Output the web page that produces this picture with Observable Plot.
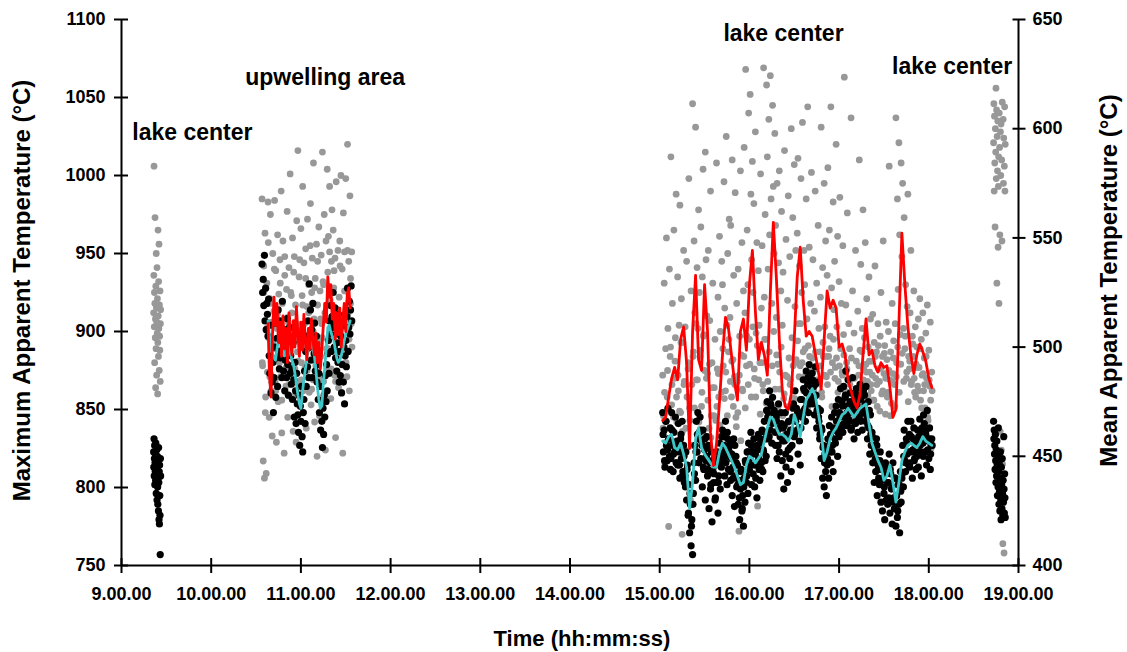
<!DOCTYPE html>
<html><head><meta charset="utf-8">
<script src="https://cdn.jsdelivr.net/npm/d3@7"></script>
<script src="https://cdn.jsdelivr.net/npm/@observablehq/plot@0.6"></script>
<style>body{margin:0;background:#fff;}</style>
</head><body><div id="chart"></div>
<script>
// ---- axes ----
const xDomain = [9, 19];
const leftDomain = [750, 1100];
const rightDomain = [400, 650];
const xTicks = [9, 10, 11, 12, 13, 14, 15, 16, 17, 18, 19];
const leftTicks = [750, 800, 850, 900, 950, 1000, 1050, 1100];
const rightTicks = [400, 450, 500, 550, 600, 650];

// ---- sampling of each measurement run (start time, interval in seconds) ----
const run1Start = "09:21:30", run1Step = 8;
const run2Start = "10:34:00", run2Step = 24;
const run2bStart = "10:34:12", run2bStep = 60;
const run3Start = "15:02:00", run3Step = 30;
const run3bStart = "15:02:15", run3bStep = 60;
const run4Start = "18:43:20", run4Step = 12;
const avg2Start = "10:38:00", avg2Step = 60;
const avg3Start = "15:02:00", avg3Step = 120;

// ---- maximum apparent temperature (left axis, °C) ----
const gray1 = [912,936,1006,903,925,880,918,973,896,908,864,929,889,950,915,872,906,941,899,921,860,893,965,910,884,932,902,956,875,917,897,888,926,868,905,914];
const gray2 = [
985,878,817,942,806,963,858,809,931,874,
983,896,845,921,975,862,906,833,950,889,
913,984,868,939,829,902,962,855,924,880,
946,871,990,835,918,958,882,822,936,897,
865,927,977,845,906,941,872,1001,858,923,
912,960,836,894,948,876,917,829,971,887,
1016,868,935,901,852,966,880,923,993,862,
944,905,877,953,838,916,972,889,930,861,
897,982,853,925,947,869,1008,908,842,934,
878,956,820,917,893,967,846,926,884,949,
905,1015,932,868,975,912,824,958,889,1004,
938,961,876,993,920,857,945,978,903,965,
928,872,947,832,996,913,884,952,864,922,
958,893,1000,869,940,822,976,907,951,880,
998,926,871,1020,912,945,862,987,934,905,
951];
const gray2b = [
880,925,848,902,957,871,918,893,940,862,
911,884,931,856,899,948,877,909,866,925,
892,938,859,905,881,946,869,917,890,934,
875,912,955,863,900,928,884,945,871,908,
896,930,858,917,889,951,876,905,939,868,
914,887,942,861,903,926,880,952,895,918,
890];
const gray3 = [
872,846,931,815,889,960,858,902,775,940,
884,1012,853,918,829,965,870,896,988,842,
935,862,904,981,848,921,770,893,952,868,
903,838,945,812,876,998,851,792,926,866,
1046,887,958,912,1031,869,941,902,978,925,
884,967,852,935,1004,898,875,1015,946,910,
873,952,838,907,990,846,880,931,812,864,
895,843,1008,876,922,858,961,900,833,945,
930,878,996,915,862,1025,904,950,887,972,
909,968,858,1010,882,936,871,989,845,918,
868,940,772,897,1003,885,957,862,926,1018,
912,1068,878,965,930,1040,895,1052,988,946,
1009,925,982,870,1028,899,957,788,939,904,
880,1001,915,955,866,1069,922,975,895,1058,
1012,940,1036,962,1064,985,918,1045,993,950,
1027,968,909,995,879,944,1003,863,926,977,
904,938,857,1016,872,959,841,920,987,883,
948,869,1030,896,973,857,1007,916,952,880,
963,1011,905,942,878,998,925,1034,887,952,
930,872,985,908,1044,891,954,866,918,1002,
883,946,862,913,990,876,931,848,968,902,
887,922,1031,858,941,884,995,903,958,871,
936,1005,884,965,897,1044,928,880,983,914,
945,877,1020,903,961,868,932,986,889,918,
874,955,898,1063,862,917,880,976,851,905,
889,838,1037,870,926,859,899,845,952,881,
862,913,872,1010,888,943,865,902,978,876,
896,957,879,921,868,890,935,874,908,862,
881,911,856,893,942,870,887,852,905,876,
868,897,925,860,884,958,873,891,847,906,
882,861,900,1006,869,887,854,918,873,894,
866,905,1037,880,985,927,1021,962,898,1008,
948,995,902,973,889,930,870,916,988,884,
876,912,952,868,897,884,926,861,903,879,
890,865,908,877,921,856,895,872,912,862,
883,851,899,870,917,843,888,865,906,825,
874];
const gray3b = [
838,861,829,875,852,890,866,845,881,858,
872,849,893,836,866,824,858,880,843,827,
884,851,905,869,842,888,861,897,833,870,
856,879,832,864,846,823,852,873,840,861,
889,857,874,846,895,868,881,852,866,839,
848,872,830,863,884,851,897,866,879,858,
903,876,858,891,869,847,880,862,895,854,
868,887,849,878,900,863,885,852,874,890,
846,860,835,871,852,866,843,878,857,882,
894,871,905,880,862,889,873,852,884,866,
875,858,887,869,850,878,861,893,872,884,
866,889,874,852,895,870,883,861,878,856,
872,885,858,876,848,866,883,854,870,845,
862,878,851,887,869,843,874,859,881,866,
872,856,884,866,891,849,877,862,886,870,
858,875,846,868,883,852,871,890,861,879,
886,868,897,874,855,881,866,892,870,858,
877,862,889,851,873,866,884,845,869,856,
862];
const gray4 = [1021,1046,990,1038,1008,967,1030,1015,1056,998,1042,931,1025,1003,1035,954,993,1012,918,1040,1018,962,836,1028,1000,1033,824,1010,958,1047,815,764,1036,995,1024,758,1006,1044,990,1020];

// ---- mean apparent temperature (right axis, °C) ----
const black1 = [452,445,458,441,449,455,437,447,443,451,439,456,446,433,448,442,453,430,444,450,436,428,447,440,425,454,438,421,443,419,446,432,423,405,449,441];
const black2 = [
538,525,531,519,542,512,527,508,520,515,
505,522,496,488,510,479,500,484,493,470,
486,500,511,477,495,504,482,517,498,490,
512,495,503,486,521,499,489,508,480,494,
505,486,513,492,478,500,509,488,496,483,
490,476,502,485,468,493,480,465,488,474,
469,461,478,455,473,466,482,459,452,470,
476,489,465,498,482,505,491,512,486,529,
500,517,494,508,486,520,503,497,511,489,
495,505,484,492,476,488,470,482,462,475,
466,454,472,460,478,468,487,475,492,480,
497,503,488,512,506,519,498,514,509,525,
511,500,518,495,506,489,502,493,515,484,
498,487,505,479,492,510,484,500,474,496,
503,491,514,527,498,509,521,506,517,528,
512];
const black3 = [
470,452,462,445,466,455,448,472,458,450,
463,449,470,455,443,461,452,468,447,457,
446,465,452,440,458,449,466,443,455,438,
441,452,430,446,423,437,415,428,409,421,
405,433,447,455,439,466,452,470,458,461,
468,449,457,436,462,444,453,430,448,459,
441,455,426,447,435,452,420,443,438,449,
430,446,438,452,424,441,456,435,447,459,
462,448,455,441,466,450,437,458,444,452,
456,439,449,432,445,458,427,441,450,436,
446,428,439,421,435,444,425,432,418,440,
429,447,438,452,433,456,444,449,461,437,
455,442,458,436,451,446,431,453,460,444,
439,456,447,462,443,452,466,448,458,471,
475,458,469,480,462,473,456,477,466,471,
470,455,468,449,462,474,452,459,441,465,
448,463,435,457,470,445,460,438,453,466,
449,462,443,455,468,474,459,480,466,472,
462,451,470,457,446,463,476,468,485,471,
480,466,489,474,483,470,492,478,485,476,
488,474,482,469,491,478,463,484,472,466,
458,471,449,462,440,455,436,451,443,432,
446,458,440,464,452,447,468,455,443,462,
470,456,473,462,450,476,459,468,481,463,
475,461,482,468,477,489,464,473,485,470,
466,479,462,474,486,470,458,476,465,481,
474,461,478,468,483,466,477,462,480,471,
478,466,482,470,458,475,463,451,469,455,
461,447,455,438,452,443,458,432,446,440,
437,452,429,444,425,440,433,421,447,430,
445,428,438,451,424,442,435,419,447,431,
426,440,418,432,422,437,428,415,443,429,
440,455,436,462,448,443,458,451,466,446,
460,447,466,452,440,458,463,449,455,444,
450,462,445,458,467,452,441,463,456,469,
465,452,460,446,471,457,449,463,444,455,
458];
const black3b = [
460,448,466,453,458,444,462,451,456,447,
455,446,460,441,450,436,444,424,433,418,
428,442,452,460,447,462,455,445,458,450,
444,454,437,448,442,431,447,438,450,445,
459,452,447,461,454,443,451,440,455,447,
437,431,443,426,436,448,441,452,446,455,
452,446,440,455,449,458,444,453,461,450,
468,459,474,465,470,461,466,455,463,470,
457,464,451,459,466,454,462,472,460,468,
470,463,476,468,481,472,479,486,474,482,
485,477,483,471,468,460,463,454,447,452,
449,455,460,452,463,458,466,461,470,464,
473,465,478,470,467,475,463,471,478,466,
472,468,476,470,480,474,469,464,471,460,
459,452,449,455,444,448,439,445,436,442,
438,431,444,436,429,440,432,425,437,434,
442,450,447,456,452,445,459,453,448,457,
452,459,455,461,450,457,462,453,458,451,
455];
const black4 = [466,458,462,451,455,444,460,448,438,453,441,457,446,432,450,436,463,443,428,447,434,425,440,452,430,421,445,437,426,449,433,423,439,429,459,435,424,442,431,422];

// ---- running averages ----
const red2 = [
905,872,858,898,922,904,918,893,906,884,
910,889,902,880,912,894,885,907,890,916,
898,884,906,888,911,893,882,902,889,908,
896,885,899,880,893,876,888,904,918,906,
935,922,930,908,918,895,912,898,915,890,
907,918,900,924,928,915];
const red3 = [
843,845,858,870,877,869,895,903,880,825,
900,936,882,875,930,900,835,814,828,855,
885,909,902,885,868,856,900,908,888,930,
952,913,882,893,885,872,925,970,935,895,
862,852,850,860,895,935,954,920,897,900,
897,886,875,863,895,926,915,920,915,890,
892,885,869,862,855,851,860,885,908,885,
888,878,874,880,877,878,864,845,850,905,
963,930,903,885,873,885,892,887,881,870,
864];
const cyan2 = [
512,505,499,497,495,494,499,504,507,503,
497,496,499,502,501,497,494,492,488,483,
478,474,472,479,485,490,495,500,504,502,
499,496,490,482,476,472,473,483,491,500,
509,510,507,505,503,499,495,493,494,496,
499,503,506,508,510,512];
const cyan3 = [
457,456,459,460,454,453,456,451,445,426,
438,458,463,454,451,449,447,445,445,452,
456,454,451,448,445,441,437,438,446,450,
449,447,449,451,457,463,468,467,463,460,
460,459,457,460,469,465,459,468,476,478,
481,478,470,462,448,452,458,461,463,466,
469,470,472,470,468,470,472,473,474,465,
456,452,448,445,439,441,446,438,429,438,
448,452,455,456,455,454,456,459,457,456,
455];

// ---- annotations ----
const noteLabels = ["lake center", "upwelling area", "lake center", "lake center"];
const noteTimes = [9.79, 11.27, 16.38, 18.26];
const noteTemps = [1023, 1058, 1086, 1065];

// ---- helpers ----
const hms = s => { const [h, m, sec] = s.split(":").map(Number); return h + m / 60 + sec / 3600; };
const toLeft = r => leftDomain[0] + (r - rightDomain[0]) * (leftDomain[1] - leftDomain[0]) / (rightDomain[1] - rightDomain[0]);
const toRight = l => rightDomain[0] + (l - leftDomain[0]) * (rightDomain[1] - rightDomain[0]) / (leftDomain[1] - leftDomain[0]);
const series = (start, step, values, conv = v => v) => {
  const t0 = hms(start);
  return values.map((v, i) => ({t: t0 + i * step / 3600, v: conv(v)}));
};

const grayData = [
  ...series(run1Start, run1Step, gray1), ...series(run2Start, run2Step, gray2),
  ...series(run2bStart, run2bStep, gray2b),
  ...series(run3Start, run3Step, gray3), ...series(run3bStart, run3bStep, gray3b),
  ...series(run4Start, run4Step, gray4)];
const blackData = [
  ...series(run1Start, run1Step, black1, toLeft), ...series(run2Start, run2Step, black2, toLeft),
  ...series(run3Start, run3Step, black3, toLeft), ...series(run3bStart, run3bStep, black3b, toLeft),
  ...series(run4Start, run4Step, black4, toLeft)];
const redA = series(avg2Start, avg2Step, red2);
const redB = series(avg3Start, avg3Step, red3);
const cyanA = series(avg2Start, avg2Step, cyan2, toLeft);
const cyanB = series(avg3Start, avg3Step, cyan3, toLeft);
const notes = noteLabels.map((label, i) => ({label, t: noteTimes[i], v: noteTemps[i]}));

const GRAY = "#989898", CYAN = "#3cc6c8", RED = "#ff0000";

const chart = Plot.plot({
  width: 1127, height: 652,
  marginLeft: 121, marginRight: 109, marginTop: 19, marginBottom: 87,
  x: {domain: xDomain},
  y: {domain: leftDomain},
  style: {fontFamily: "'Liberation Sans', Arial, Helvetica, sans-serif", fontSize: "18px", fontWeight: "bold", background: "#fff", color: "#000"},
  marks: [
    Plot.dot(grayData, {x: "t", y: "v", r: 3.4, fill: GRAY}),
    Plot.dot(blackData, {x: "t", y: "v", r: 3.6, fill: "#000"}),
    Plot.line(cyanA, {x: "t", y: "v", stroke: CYAN, strokeWidth: 2.8}),
    Plot.line(cyanB, {x: "t", y: "v", stroke: CYAN, strokeWidth: 2.8}),
    Plot.line(redA, {x: "t", y: "v", stroke: RED, strokeWidth: 2.8}),
    Plot.line(redB, {x: "t", y: "v", stroke: RED, strokeWidth: 2.8}),
    // axis lines
    Plot.ruleX([xDomain[0], xDomain[1]], {stroke: "#000", strokeWidth: 2}),
    Plot.ruleY([leftDomain[0]], {stroke: "#000", strokeWidth: 2}),
    // left axis
    Plot.axisY(leftTicks, {anchor: "left", tickSize: 14, dx: 7, tickFormat: () => "", label: null, strokeWidth: 2}),
    Plot.axisY(leftTicks, {anchor: "left", tickSize: 0, tickPadding: 16, tickFormat: d => String(d), label: null, fontSize: 18}),
    // right axis
    Plot.axisY(rightTicks.map(toLeft), {anchor: "right", tickSize: 13, dx: -6.5, tickFormat: () => "", label: null, strokeWidth: 2}),
    Plot.axisY(rightTicks.map(toLeft), {anchor: "right", tickSize: 0, tickPadding: 14, tickFormat: d => String(Math.round(toRight(d))), label: null, fontSize: 18}),
    // bottom axis
    Plot.axisX(xTicks, {tickSize: 15, dy: -7, tickFormat: () => "", label: null, strokeWidth: 2}),
    Plot.axisX(xTicks, {tickSize: 0, tickPadding: 22, tickFormat: h => `${h}.00.00`, label: null, fontSize: 18}),
    // titles
    Plot.text(["Maximum Apparent Temperature (°C)"], {text: d => d, frameAnchor: "left", textAnchor: "middle", lineAnchor: "middle", rotate: -90, dx: -99, dy: -2, fontSize: 24, fontWeight: "bold"}),
    Plot.text(["Mean Apparent Temperature (°C)"], {text: d => d, frameAnchor: "right", textAnchor: "middle", lineAnchor: "middle", rotate: -90, dx: 91, dy: -12, fontSize: 24, fontWeight: "bold"}),
    Plot.text(["Time (hh:mm:ss)"], {text: d => d, frameAnchor: "bottom", textAnchor: "middle", lineAnchor: "bottom", dy: 80, dx: 12, fontSize: 22, fontWeight: "bold"}),
    // annotations
    Plot.text(notes, {x: "t", y: "v", text: "label", lineAnchor: "bottom", textAnchor: "middle", fontSize: 23, fontWeight: "bold"})
  ]
});
document.getElementById("chart").appendChild(chart);
</script>
</body></html>
